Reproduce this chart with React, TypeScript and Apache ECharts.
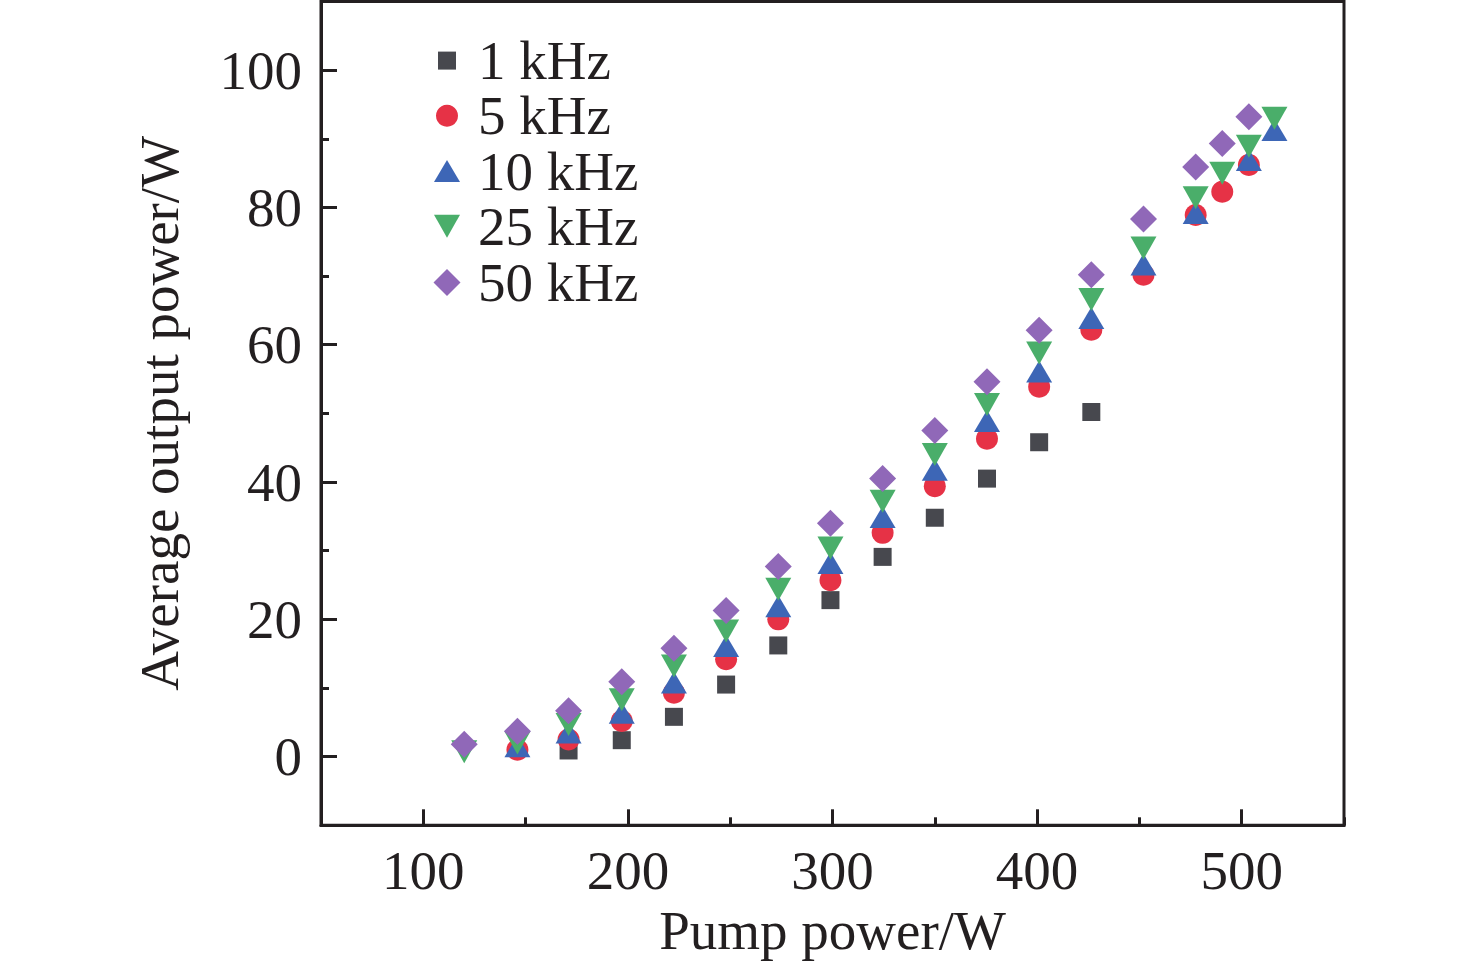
import React, { useEffect, useRef } from "react";
import * as echarts from "echarts";

// Pump power (W) and average output power (W) for each repetition rate
const pump1 = [171, 197, 222.5, 248, 273.5, 299, 324.5, 350, 375.5, 401, 426.5];
const out1 = [0.9, 2.4, 5.8, 10.5, 16.2, 22.8, 29.1, 34.8, 40.5, 45.8, 50.2];

const pump5 = [146, 171, 197, 222.5, 248, 273.5, 299, 324.5, 350, 375.5, 401, 426.5, 452, 477.5, 490.5, 503.5];
const out5 = [1.0, 2.5, 5.2, 9.3, 14.2, 20.0, 25.7, 32.6, 39.4, 46.3, 53.9, 62.2, 70.2, 78.9, 82.3, 86.2];

const pump10 = [146, 171, 197, 222.5, 248, 273.5, 299, 324.5, 350, 375.5, 401, 426.5, 452, 477.5, 503.5, 516];
const out10 = [1.5, 3.5, 6.4, 10.8, 16.1, 21.9, 28.2, 34.9, 41.8, 48.9, 56.1, 63.9, 71.7, 79.2, 86.9, 91.3];

const pump25 = [120, 146, 171, 197, 222.5, 248, 273.5, 299, 324.5, 350, 375.5, 401, 426.5, 452, 477.5, 490.5, 503.5, 516];
const out25 = [0.7, 2.0, 4.7, 8.3, 13.2, 18.3, 24.4, 30.4, 37.2, 44.0, 51.3, 58.8, 66.6, 74.1, 81.4, 85.0, 88.9, 93.0];

const pump50 = [120, 146, 171, 197, 222.5, 248, 273.5, 299, 324.5, 350, 375.5, 401, 426.5, 452, 477.5, 490.5, 503.5];
const out50 = [1.8, 3.7, 6.7, 10.9, 15.8, 21.3, 27.7, 34.0, 40.5, 47.5, 54.6, 62.1, 70.2, 78.3, 85.9, 89.3, 93.2];

const seriesNames = ["1 kHz", "5 kHz", "10 kHz", "25 kHz", "50 kHz"];
const xTickLabels = [100, 200, 300, 400, 500];
const yTickLabels = [0, 20, 40, 60, 80, 100];

const FONT = "'Liberation Serif', 'Times New Roman', Times, serif";
const INK = "#231f20";
const DOWN_TRIANGLE = "path://M0,0L26,0L13,23Z";

function pairs(xs: number[], ys: number[]) {
  return xs.map((x, i) => [x, ys[i]]);
}

export default function App() {
  const ref = useRef<HTMLDivElement>(null);

  useEffect(() => {
    if (!ref.current) return;
    const chart = echarts.init(ref.current, undefined, { renderer: "svg" });

    const marks = [
      { name: seriesNames[0], data: pairs(pump1, out1), symbol: "rect", icon: "rect", size: [18, 18], color: "#47484e", lw: 18, lh: 18, cy: 60.6 },
      { name: seriesNames[1], data: pairs(pump5, out5), symbol: "circle", icon: "circle", size: [22, 22], color: "#e63246", lw: 22, lh: 22, cy: 115.8 },
      { name: seriesNames[2], data: pairs(pump10, out10), symbol: "triangle", icon: "triangle", size: [26, 22], color: "#3d66b6", lw: 26, lh: 22, cy: 171 },
      { name: seriesNames[3], data: pairs(pump25, out25), symbol: DOWN_TRIANGLE, icon: DOWN_TRIANGLE, size: [26, 23], color: "#4aae6a", lw: 26, lh: 23, cy: 226.3 },
      { name: seriesNames[4], data: pairs(pump50, out50), symbol: "diamond", icon: "diamond", size: [27, 27], color: "#9068b8", lw: 27, lh: 27, cy: 282.6 },
    ];

    const legendCx = 447;
    const textStartX = 478;
    const LEG_FS = 55;

    const axisLabelStyle = { fontSize: 55, fontFamily: FONT, color: INK };

    const option: any = {
      animation: false,
      backgroundColor: "#ffffff",
      grid: {
        left: 321,
        right: 132,
        top: 1.5,
        bottom: 140.7,
        show: true,
        borderColor: INK,
        borderWidth: 3,
        backgroundColor: "transparent",
        containLabel: false,
      },
      legend: marks.map((m) => ({
        show: true,
        selectedMode: false,
        data: [{ name: m.name, icon: m.icon }],
        orient: "horizontal",
        left: legendCx - m.lw / 2,
        top: m.cy - LEG_FS / 2,
        padding: 0,
        itemWidth: m.lw,
        itemHeight: m.lh,
        textStyle: {
          fontSize: LEG_FS,
          fontFamily: FONT,
          color: INK,
          lineHeight: LEG_FS,
          padding: [0, 0, 0, textStartX - (legendCx + m.lw / 2 + 5)],
        },
      })),
      xAxis: [
        {
          type: "value",
          position: "bottom",
          min: 50,
          max: 550,
          minInterval: 100,
          maxInterval: 100,
          name: "Pump power/W",
          nameLocation: "middle",
          nameGap: 74,
          nameTextStyle: { fontSize: 55, fontFamily: FONT, color: INK },
          axisLine: { show: true, onZero: false, lineStyle: { color: INK, width: 3 } },
          axisTick: { show: true, inside: true, length: 16, lineStyle: { color: INK, width: 3 } },
          axisLabel: {
            ...axisLabelStyle,
            margin: 18,
            showMinLabel: false,
            showMaxLabel: false,
            formatter: (v: number) => (xTickLabels.includes(v) ? String(v) : ""),
          },
          splitLine: { show: false },
        },
        {
          type: "value",
          position: "bottom",
          min: 50,
          max: 550,
          interval: 50,
          axisLine: { show: false, onZero: false },
          axisTick: { show: true, inside: true, length: 8, lineStyle: { color: INK, width: 3 } },
          axisLabel: { show: false },
          splitLine: { show: false },
        },
      ],
      yAxis: [
        {
          type: "value",
          position: "left",
          min: -10,
          max: 110,
          minInterval: 20,
          maxInterval: 20,
          name: "Average output power/W",
          nameLocation: "middle",
          nameGap: 134,
          nameTextStyle: { fontSize: 55, fontFamily: FONT, color: INK },
          axisLine: { show: true, onZero: false, lineStyle: { color: INK, width: 3 } },
          axisTick: { show: true, inside: true, length: 16, lineStyle: { color: INK, width: 3 } },
          axisLabel: {
            ...axisLabelStyle,
            margin: 19,
            showMinLabel: false,
            showMaxLabel: false,
            formatter: (v: number) => (yTickLabels.includes(v) ? String(v) : ""),
          },
          splitLine: { show: false },
        },
        {
          type: "value",
          position: "left",
          min: -10,
          max: 110,
          interval: 10,
          axisLine: { show: false, onZero: false },
          axisTick: { show: true, inside: true, length: 8, lineStyle: { color: INK, width: 3 } },
          axisLabel: { show: false },
          splitLine: { show: false },
        },
      ],
      series: marks.map((m) => ({
        type: "scatter",
        name: m.name,
        xAxisIndex: 0,
        yAxisIndex: 0,
        data: m.data,
        symbol: m.symbol,
        symbolSize: m.size,
        itemStyle: { color: m.color, opacity: 1 },
        emphasis: { disabled: true },
      })),
    };

    chart.setOption(option);
    return () => chart.dispose();
  }, []);

  return (
    <div
      ref={ref}
      style={{ position: "absolute", left: 0, top: 0, width: 1476, height: 966, background: "#fff" }}
    />
  );
}
